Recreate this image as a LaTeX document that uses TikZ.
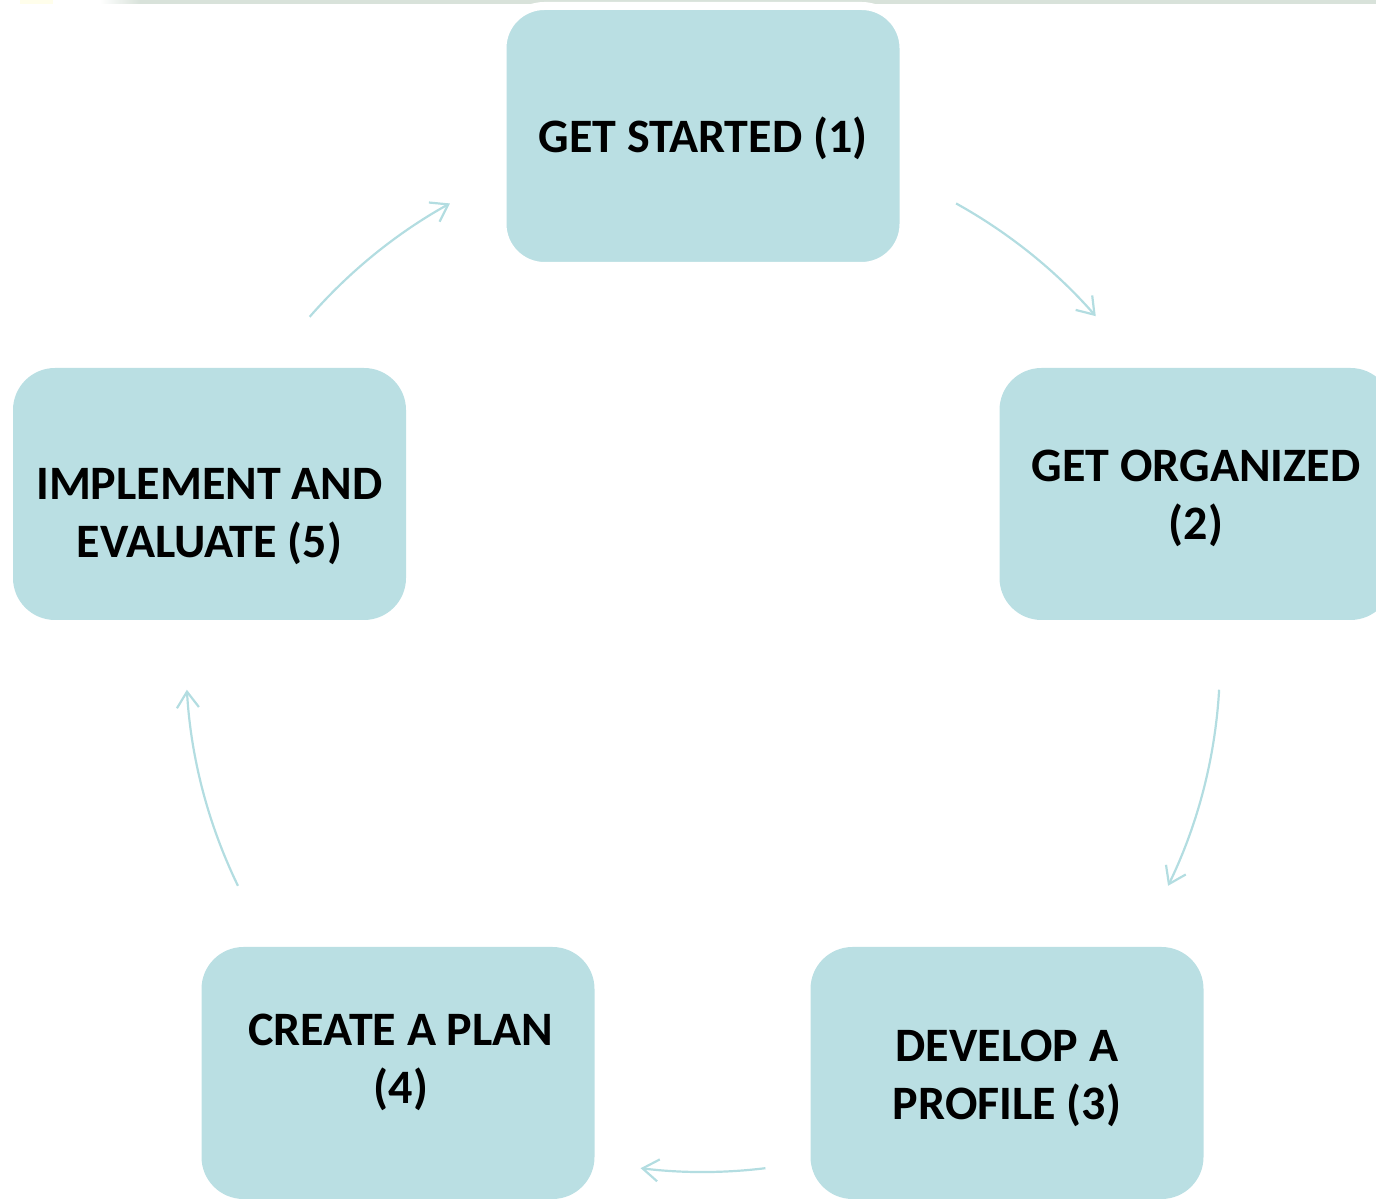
\documentclass[tikz,border=0pt]{standalone}
\usepackage{fontspec}
\setmainfont{Carlito}
\usetikzlibrary{arrows.meta}

\definecolor{boxblue}{HTML}{BADFE3}
\definecolor{arcblue}{HTML}{B3DDE1}
\definecolor{stripgray}{HTML}{D8E2DA}

\tikzset{
  stage/.style={fill=boxblue, rounded corners=42pt, minimum width=393pt,
    minimum height=252pt, inner sep=0pt},
  stagetext/.style={font=\fontsize{48}{58}\selectfont\bfseries, align=center,
    text=black},
  flow/.style={draw=arcblue, line width=2.2pt,
    -{Straight Barb[length=16pt,width=22pt]}}
}

\begin{document}
\begin{tikzpicture}[x=1pt,y=1pt]
  \useasboundingbox (0,0) rectangle (1376,1199);
  \clip (0,0) rectangle (1376,1199);
  % strip along the top
  \fill[left color=white,right color=stripgray] (100,1195) rectangle (140,1199);
  \fill[stripgray] (140,1195) rectangle (1376,1199);
  \fill[yellow!8] (20,1195) rectangle (53,1199);
  % stages
  \node[stage, draw=white, line width=8pt, minimum width=401pt,
    minimum height=260pt] (s1) at (703,1063) {};
  \node[stage] (s2) at (1196,705) {};
  \node[stage] (s3) at (1007,126) {};
  \node[stage] (s4) at (398,126) {};
  \node[stage] (s5) at (209.5,705) {};
  \node[stagetext] (t1) at ([yshift=-2]s1.center) {GET STARTED (1)};
  \node[stagetext] (t2) at ([yshift=-4]s2.center) {GET ORGANIZED\\(2)};
  \node[stagetext] (t3) at ([yshift=-5]s3.center) {DEVELOP A\\PROFILE (3)};
  \node[stagetext] (t4) at ([xshift=3,yshift=11]s4.center) {CREATE A PLAN\\(4)};
  \node[stagetext] (t5) at ([yshift=-23]s5.center) {IMPLEMENT AND\\EVALUATE (5)};
  % cycle arrows
  \coordinate (c) at (703,539);
  \foreach \a/\b/\r [count=\i] in {61/41.2/522, -3.3/-25.9/517, -83/-97/512,
      205.9/183.3/517, 138.9/119/522}
  {
    \coordinate (f\i) at ([shift={(\a:\r)}]c);
    \draw[flow] (f\i) arc[start angle=\a, end angle=\b, radius=\r];
  }
\end{tikzpicture}
\end{document}
